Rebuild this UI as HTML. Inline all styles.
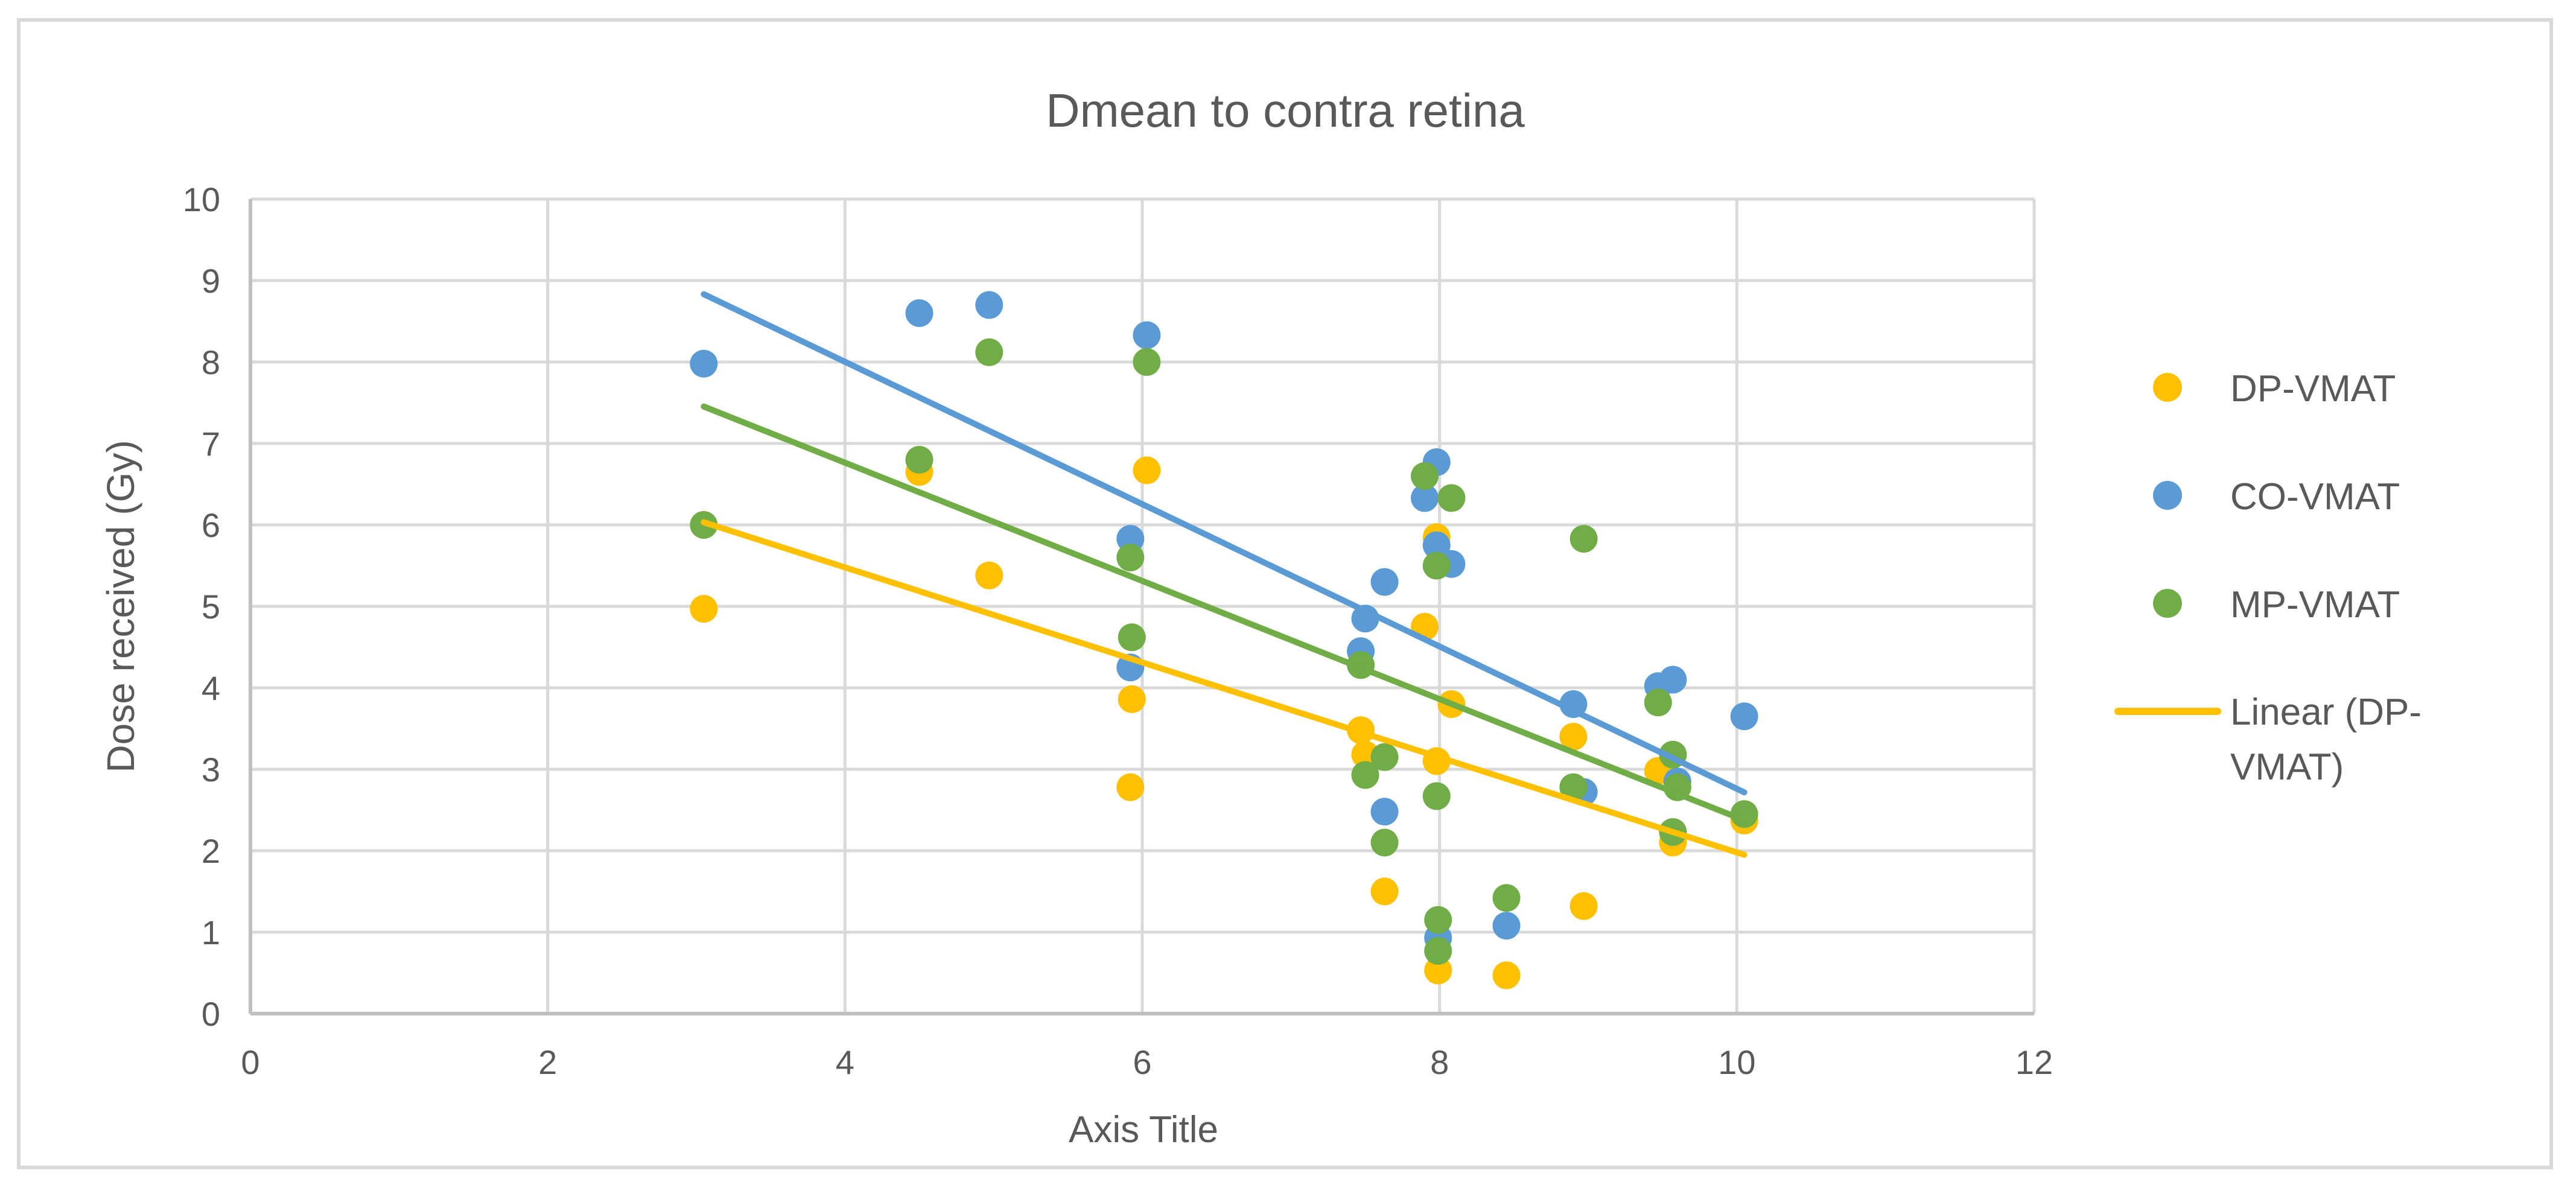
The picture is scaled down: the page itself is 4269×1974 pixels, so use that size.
<!DOCTYPE html>
<html><head><meta charset="utf-8"><style>
html,body{margin:0;padding:0;background:#fff;}
svg{display:block;}
text{font-family:"Liberation Sans",sans-serif;fill:#595959;}
</style></head><body>
<svg id="chart" width="4269" height="1974" viewBox="0 0 4269 1974" xmlns="http://www.w3.org/2000/svg">
<rect x="31" y="33" width="4197" height="1902" fill="#fff" stroke="#d9d9d9" stroke-width="6"/>
<text x="2130" y="210" font-size="78" text-anchor="middle">Dmean to contra retina</text>
<g id="grid"></g>
<g id="axes"></g>
<g id="marks"></g>
<g id="trends"></g>
<text x="1895" y="1893" font-size="62" text-anchor="middle">Axis Title</text>
<text transform="translate(222,1005) rotate(-90)" font-size="64" text-anchor="middle">Dose received (Gy)</text>
<g>
<circle cx="3592" cy="642" r="24" fill="#FFC000"/>
<text x="3696" y="665" font-size="62">DP-VMAT</text>
<circle cx="3592" cy="821" r="24" fill="#5B9BD5"/>
<text x="3696" y="844" font-size="62">CO-VMAT</text>
<circle cx="3592" cy="1000" r="24" fill="#70AD47"/>
<text x="3696" y="1023" font-size="62">MP-VMAT</text>
<line x1="3510" y1="1179" x2="3675" y2="1179" stroke="#FFC000" stroke-width="12" stroke-linecap="round"/>
<text x="3696" y="1201" font-size="62">Linear (DP-</text>
<text x="3696" y="1292" font-size="62">VMAT)</text>
</g>
</svg>
<script>
const xTicks=[0,2,4,6,8,10,12];
const yTicks=[0,1,2,3,4,5,6,7,8,9,10];
const dpX=[3.05,4.5,4.97,5.92,5.93,6.03,7.47,7.5,7.63,7.9,7.98,7.98,7.99,8.08,8.45,8.9,8.97,9.47,9.57,9.6,10.05];
const dpY=[4.97,6.65,5.38,2.78,3.86,6.67,3.48,3.18,1.5,4.75,5.85,3.1,0.53,3.8,0.47,3.4,1.32,2.98,2.1,2.78,2.37];
const coX=[3.05,4.5,4.97,5.92,5.92,6.03,7.47,7.5,7.63,7.63,7.9,7.98,7.98,7.99,8.08,8.45,8.9,8.97,9.47,9.57,9.6,10.05];
const coY=[7.98,8.6,8.7,5.83,4.25,8.33,4.45,4.85,5.3,2.48,6.33,6.77,5.75,0.93,5.52,1.08,3.8,2.72,4.02,4.1,2.85,3.65];
const mpX=[3.05,4.5,4.97,5.92,5.93,6.03,7.47,7.5,7.63,7.63,7.9,7.98,7.98,7.99,7.99,8.08,8.45,8.9,8.97,9.47,9.57,9.6,9.57,10.05];
const mpY=[6.0,6.8,8.12,5.6,4.62,8.0,4.28,2.93,3.15,2.1,6.6,5.5,2.67,1.15,0.77,6.33,1.42,2.78,5.83,3.82,3.18,2.78,2.23,2.45];

const NS="http://www.w3.org/2000/svg";
const X0=415,X1=3371,Y0=1680,Y1=330;
const sx=v=>X0+(v-0)/(12-0)*(X1-X0);
const sy=v=>Y0-(v-0)/(10-0)*(Y0-Y1);
function mk(tag,attrs,parent){const e=document.createElementNS(NS,tag);for(const k in attrs)e.setAttribute(k,attrs[k]);parent.appendChild(e);return e;}
const grid=document.getElementById('grid'),axes=document.getElementById('axes'),marks=document.getElementById('marks'),trends=document.getElementById('trends');
yTicks.forEach(t=>{
  if(t>0){const l=mk('line',{x1:X0,x2:X1,y1:sy(t),y2:sy(t),stroke:'#d9d9d9','stroke-width':5},grid);
  
  }
  const tx=mk('text',{x:X0-50,y:sy(t)+20,'font-size':56,'text-anchor':'end'},axes);
  tx.textContent=t;
  
  
});
xTicks.forEach(t=>{
  if(t>0){const l=mk('line',{x1:sx(t),x2:sx(t),y1:Y1,y2:Y0,stroke:'#d9d9d9','stroke-width':5},grid);
  
  }
  const tx=mk('text',{x:sx(t),y:Y0+100,'font-size':56,'text-anchor':'middle'},axes);
  tx.textContent=t;
  
  
});
const ax=mk('line',{x1:X0,x2:X1,y1:Y0,y2:Y0,stroke:'#bfbfbf','stroke-width':6},axes);


const ay=mk('line',{x1:X0,x2:X0,y1:Y1,y2:Y0,stroke:'#bfbfbf','stroke-width':6},axes);



const series=[[dpX,dpY,'#FFC000','dp-vmat'],[coX,coY,'#5B9BD5','co-vmat'],[mpX,mpY,'#70AD47','mp-vmat']];
series.forEach(([xs,ys,c,n])=>{
  xs.forEach((x,i)=>{
    const p=mk('circle',{cx:sx(x),cy:sy(ys[i]),r:23,fill:c},marks);
    
    
  });
});
series.forEach(([xs,ys,c,n])=>{
  const N=xs.length;let mx=0,my=0;xs.forEach((x,i)=>{mx+=x;my+=ys[i];});mx/=N;my/=N;
  let sxy=0,sxx=0;xs.forEach((x,i)=>{sxy+=(x-mx)*(ys[i]-my);sxx+=(x-mx)*(x-mx);});
  const b=sxy/sxx,a=my-b*mx;const xa=Math.min(...xs),xb=Math.max(...xs);
  const l=mk('line',{x1:sx(xa),y1:sy(a+b*xa),x2:sx(xb),y2:sy(a+b*xb),stroke:c,'stroke-width':10,'stroke-linecap':'round'},trends);
  
  
});
</script>
</body></html>
